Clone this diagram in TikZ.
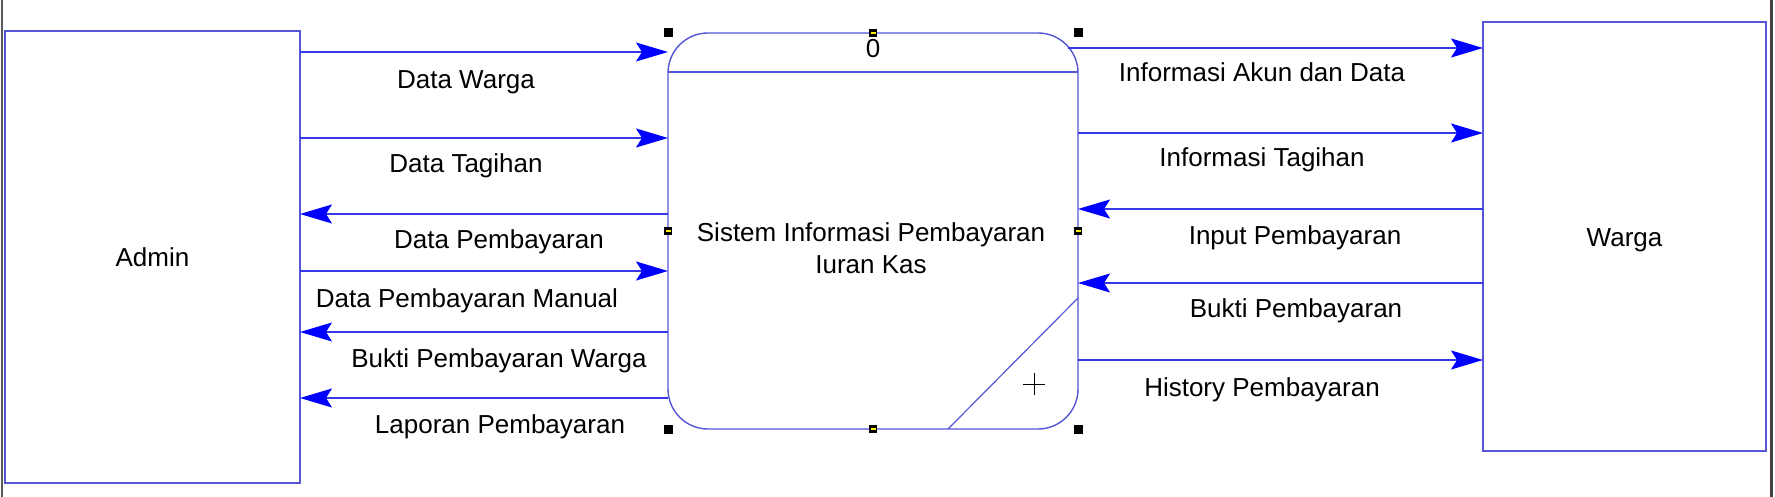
\documentclass[tikz,border=0pt]{standalone}
\usepackage{fontspec}
\setmainfont{Liberation Sans}
\usetikzlibrary{arrows.meta}
\definecolor{flowblue}{RGB}{55,55,228}
\definecolor{boxblue}{RGB}{85,85,215}
\tikzset{
  every node/.style={font=\fontsize{13}{16}\selectfont},
  entity/.style={draw=boxblue, line width=0.9pt, inner sep=0pt, outer sep=0pt},
  procbox/.style={draw=boxblue, line width=0.7pt, fill=white, rounded corners=20pt, inner sep=0pt, outer sep=0pt},
  flow/.style={draw=flowblue, line width=0.65pt, -{Stealth[length=16pt,width=9.5pt,inset=3pt,color=blue]}},
  lbl/.style={anchor=base, inner sep=0pt}
}
\begin{document}
\begin{tikzpicture}[x=0.5pt, y=-0.5pt]
\fill[white](0,0) rectangle (1775,497);
\useasboundingbox (0,0) rectangle (1775,497);
\draw[gray!70!black, line width=1pt](1.5,0)--(1.5,497);
\draw[gray!50!black, line width=1.5pt](1771,0)--(1771,497);

\node[entity, minimum width=147.5pt, minimum height=226pt](admin) at (152.5,257){};
\node[lbl](adminlbl) at (152.5,266){Admin};
\node[entity, minimum width=141.5pt, minimum height=214.5pt](warga) at (1624.5,236.5){};
\node[lbl](wargalbl) at (1624.5,246){Warga};

\node[procbox, minimum width=205pt, minimum height=198pt](proc) at (873,231){};
\draw[boxblue, line width=0.7pt](proc.west |- 0,72)--(proc.east |- 0,72);
\node[lbl](procid) at (873,58){0};
\node[align=center, inner sep=0pt](proctext) at (871,248.5){Sistem Informasi Pembayaran\\Iuran Kas};
\draw[boxblue, line width=0.6pt](proc.east |- 0,298)--(proc.south -| 948,0);
\draw[line width=0.5pt](1023,384)--(1045,384) (1034,373)--(1034,395);

% admin <-> sistem
\foreach \y in {52,138,271}
{
    \draw[flow](admin.east |- 0,\y)--(proc.west |- 0,\y);
}
\foreach \y in {214,332,398}
{
    \draw[flow](proc.west |- 0,\y)--(admin.east |- 0,\y);
}
\node[lbl](dwarga) at (466,89){Data Warga};
\node[lbl](dtagihan) at (466,173){Data Tagihan};
\node[lbl](dbayar) at (499,249){Data Pembayaran};
\node[lbl](dmanual) at (467,307){Data Pembayaran Manual};
\node[lbl](bwarga) at (499,367){Bukti Pembayaran Warga};
\node[lbl](lapbayar) at (500,433){Laporan Pembayaran};

% sistem <-> warga
\draw[flow, shorten <=-5pt](proc.east |- 0,48)--(warga.west |- 0,48);
\foreach \y in {133,360}
{
    \draw[flow](proc.east |- 0,\y)--(warga.west |- 0,\y);
}
\foreach \y in {209,283}
{
    \draw[flow](warga.west |- 0,\y)--(proc.east |- 0,\y);
}
\node[lbl](infoakun) at (1262,82){Informasi Akun dan Data};
\node[lbl](infotagihan) at (1262,167){Informasi Tagihan};
\node[lbl](inputbayar) at (1295,244){Input Pembayaran};
\node[lbl](buktibayar) at (1296,317){Bukti Pembayaran};
\node[lbl](histbayar) at (1262,396){History Pembayaran};

% selection handles
\foreach \a in {north west, north east, south west, south east}
{
    \fill(proc.\a) +(-4.5,-4.5) rectangle +(4.5,4.5);
}
\foreach \a in {north, south, west, east}
{
    \fill(proc.\a) +(-4,-4) rectangle +(4,4);
    \fill[yellow](proc.\a) +(-2.5,-1) rectangle +(2.5,1);
}
\end{tikzpicture}
\end{document}
